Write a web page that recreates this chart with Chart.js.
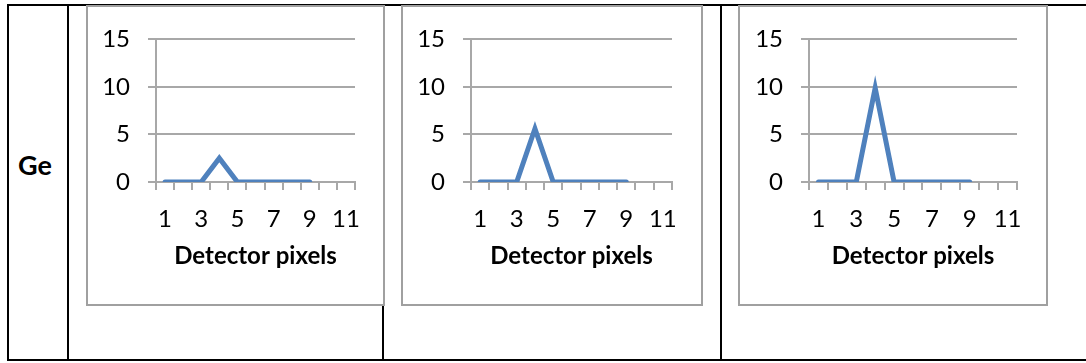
<!DOCTYPE html>
<html>
<head>
<meta charset="utf-8">
<script src="https://cdn.jsdelivr.net/npm/chart.js@4.4.1/dist/chart.umd.min.js"></script>
<style>
  html, body { margin:0; padding:0; background:#fff; }
  body { width:1086px; height:363px; position:relative; overflow:hidden; font-family: Lato, "Open Sans", sans-serif; }
  .ln { position:absolute; background:#000; }
  .frame { position:absolute; border:2px solid #a0a0a0; background:#fff; }
  .frame canvas { display:block; }
  #rowlab { position:absolute; left:18px; top:148px; font-weight:bold; font-size:27px; color:#000; font-family: Lato, sans-serif; }
</style>
</head>
<body>
<div class="ln" style="left:7px; top:4px; width:1079px; height:2px;"></div>
<div class="ln" style="left:7px; top:359px; width:1079px; height:2px;"></div>
<div class="ln" style="left:7px; top:4px; width:2px; height:357px;"></div>
<div class="ln" style="left:67px; top:4px; width:2px; height:357px;"></div>
<div class="ln" style="left:382px; top:4px; width:2px; height:357px;"></div>
<div class="ln" style="left:720px; top:4px; width:2px; height:357px;"></div>
<div id="rowlab"></div>
<div class="frame" style="left:86px; top:5px; width:295px; height:297px;"><canvas id="c1" width="295" height="297"></canvas></div>
<div class="frame" style="left:401px; top:5px; width:298px; height:297px;"><canvas id="c2" width="298" height="297"></canvas></div>
<div class="frame" style="left:738px; top:5px; width:306px; height:297px;"><canvas id="c3" width="306" height="297"></canvas></div>
<script>
const rowLabel = 'Ge';
const axisTitle = 'Detector pixels';
const xLabels = ['1','2','3','4','5','6','7','8','9','10','11'];
const yTickValues = [0, 5, 10, 15];
const seriesA = [0, 0, 0, 2.5, 0, 0, 0, 0, 0];
const seriesB = [0, 0, 0, 5.6, 0, 0, 0, 0, 0];
const seriesC = [0, 0, 0, 9.9, 0, 0, 0, 0, 0];

document.getElementById('rowlab').textContent = rowLabel;

const gridColor = '#a8a8a8';
const lineColor = '#4f81bd';
const fontFamily = 'Lato, "Open Sans", sans-serif';

function makeChart(id, data, yWidth, padRight) {
  new Chart(document.getElementById(id), {
    type: 'line',
    data: {
      labels: xLabels,
      datasets: [{
        data: data,
        borderColor: lineColor,
        borderWidth: 5,
        pointRadius: 0,
        tension: 0,
        borderCapStyle: 'round',
        borderJoinStyle: 'miter',
        fill: false
      }]
    },
    options: {
      responsive: false,
      animation: false,
      devicePixelRatio: 1,
      layout: { padding: { top: 28, right: padRight, bottom: 0, left: 0 } },
      plugins: { legend: { display: false }, tooltip: { enabled: false } },
      scales: {
        x: {
          type: 'category',
          offset: true,
          afterFit: s => { s.height = 122; },
          grid: { display: true, offset: true, drawOnChartArea: false, drawTicks: true, tickLength: 8, color: gridColor, lineWidth: 2 },
          border: { display: true, color: gridColor, width: 2 },
          ticks: {
            autoSkip: false, maxRotation: 0, minRotation: 0, padding: 15,
            color: '#000', font: { family: fontFamily, size: 24 },
            callback: function(v, i) { return i % 2 === 0 ? this.getLabelForValue(v) : ''; }
          },
          title: { display: true, text: axisTitle, color: '#000', font: { family: fontFamily, size: 24, weight: 'bold' }, padding: { top: 0, bottom: 33 } }
        },
        y: {
          min: yTickValues[0],
          max: yTickValues[yTickValues.length - 1],
          afterFit: s => { s.width = yWidth; },
          afterBuildTicks: s => { s.ticks = yTickValues.map(v => ({ value: v })); },
          grid: { display: true, drawTicks: true, tickLength: 8, color: gridColor, lineWidth: 2 },
          border: { display: true, color: gridColor, width: 2 },
          ticks: { padding: 18, color: '#000', font: { family: fontFamily, size: 24 } }
        }
      }
    }
  });
}

makeChart('c1', seriesA, 68, 28);
makeChart('c2', seriesB, 68, 29);
makeChart('c3', seriesC, 69, 29);
</script>
</body>
</html>
